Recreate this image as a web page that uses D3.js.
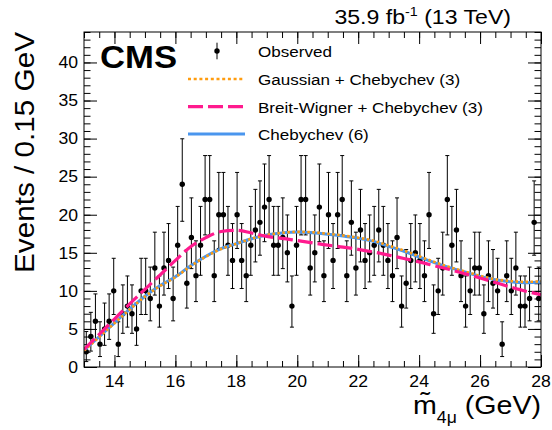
<!DOCTYPE html>
<html><head><meta charset="utf-8">
<script src="https://cdn.jsdelivr.net/npm/d3@7"></script>
<style>
body{margin:0;background:#fff}
svg{display:block}
text{font-family:"Liberation Sans",Arial,Helvetica,sans-serif;fill:#000}
</style>
</head><body>
<svg id="chart" width="552" height="430"></svg>
<script>
// ---------------- data ----------------
const binLow = 13, binWidth = 0.15;
const observed = [
  2,4,6,3,5,6,10,3,7,8,
  7,5,10,10,9,13,8,13,14,9,
  16,24,11,17,12,16,22,22,12,20,
  20,16,14,20,14,12,16,18,19,21,
  22,16,16,17,15,8,16,22,22,13,
  15,21,12,20,14,20,22,12,19,13,
  18,14,15,16,18,16,14,12,17,8,
  11,14,15,14,12,20,7,10,13,22,
  16,18,12,8,10,13,13,7,12,11,
  10,3,12,10,13,8,8,9,19,9
];
const fitMass = [13,13.5,14,14.5,15,15.5,16,16.5,17,17.5,18,18.5,19,19.5,20,20.5,21,21.5,22,22.5,23,23.5,24,24.5,25,25.5,26,26.5,27,27.5,28];
const chebychev6 = [2.2,4.0,5.8,7.6,9.3,10.7,11.85,13.3,14.55,15.55,16.2,16.85,17.35,17.6,17.72,17.64,17.45,17.2,16.9,16.5,15.85,15.2,14.45,13.7,13.05,12.47,11.9,11.45,11.2,11.08,11.18];
const gaussCheb3 = [2.15,3.95,5.75,7.55,9.25,10.65,11.8,13.25,14.5,15.5,16.2,16.85,17.35,17.62,17.75,17.7,17.5,17.28,16.98,16.58,15.95,15.3,14.55,13.8,13.12,12.55,11.98,11.52,11.28,11.18,11.25];
const bwCheb3 = [2.3,4.3,6.3,8.3,10.2,12.1,14.0,15.8,17.0,17.8,17.95,17.6,17.15,16.9,16.6,16.3,16.0,15.75,15.45,15.1,14.7,14.25,13.8,13.3,12.8,12.25,11.7,11.1,10.5,9.95,9.5];
const xTicks = [14,16,18,20,22,24,26,28];
const yTicks = [0,5,10,15,20,25,30,35,40];
const legendLabels = ["Observed","Gaussian + Chebychev (3)","Breit-Wigner + Chebychev (3)","Chebychev (6)"];
const lumiText = ["35.9 fb", "-1", " (13 TeV)"];

// ---------------- setup ----------------
const SX = 1.1; // horizontal text stretch of the reference
const svg = d3.select("#chart");
const L = 84, R = 541, T = 32, B = 367;
const x = d3.scaleLinear().domain([13, 28]).range([L, R]);
const y = d3.scaleLinear().domain([0, 44]).range([B, T]);

function label(parent, px, py, txt, size, anchor, extra) {
  const t = parent.append("text")
    .attr("transform", `translate(${px},${py}) ${extra || ""} scale(${SX},1)`)
    .attr("text-anchor", anchor)
    .style("font-size", size + "px");
  if (txt !== null) t.text(txt);
  return t;
}

// Poisson (Gehrels approx.) error bounds
function poissonLow(n) { return n <= 0 ? 0 : n * Math.pow(1 - 1/(9*n) - 1/(3*Math.sqrt(n)), 3); }
function poissonHigh(n) { return n + Math.sqrt(n + 0.75) + 1; }

const data = observed.map((v, i) => ({m: binLow + (i + 0.5) * binWidth, v}));

// ---------------- axes (ticks inward, all four sides) ----------------
const minorX = d3.range(13, 28.001, 0.5);
const minorY = d3.range(0, 44.001, 1);
function axisG(axis, tx, ty) {
  const g = svg.append("g").attr("transform", `translate(${tx},${ty})`).call(axis);
  g.select(".domain").remove();
  g.selectAll("text").remove();
  g.selectAll("line").attr("stroke", "#000").attr("stroke-width", 1);
  return g;
}
axisG(d3.axisBottom(x).tickValues(minorX).tickSize(-6), 0, B);
axisG(d3.axisBottom(x).tickValues(xTicks).tickSize(-12), 0, B);
axisG(d3.axisTop(x).tickValues(minorX).tickSize(-6), 0, T);
axisG(d3.axisTop(x).tickValues(xTicks).tickSize(-12), 0, T);
axisG(d3.axisLeft(y).tickValues(minorY).tickSize(-6.5), L, 0);
axisG(d3.axisLeft(y).tickValues(yTicks).tickSize(-13), L, 0);
axisG(d3.axisRight(y).tickValues(minorY).tickSize(-6.5), R, 0);
axisG(d3.axisRight(y).tickValues(yTicks).tickSize(-13), R, 0);

// tick labels
xTicks.forEach(t => label(svg, x(t), 386.5, String(t), 16, "middle"));
yTicks.forEach(t => label(svg, 78, y(t) + 5.8, String(t), 16, "end"));

// ---------------- data points ----------------
const clipId = "plotclip";
svg.append("clipPath").attr("id", clipId).append("rect")
  .attr("x", L).attr("y", T).attr("width", R - L).attr("height", B - T);
const plot = svg.append("g").attr("clip-path", `url(#${clipId})`);

const eb = plot.append("g").attr("stroke", "#000").attr("stroke-width", 1);
data.forEach(d => {
  const cx = x(d.m), y0 = y(poissonLow(d.v)), y1 = y(poissonHigh(d.v));
  eb.append("line").attr("x1", cx).attr("x2", cx).attr("y1", y0).attr("y2", y1);
  eb.append("line").attr("x1", cx - 2).attr("x2", cx + 2).attr("y1", y0).attr("y2", y0);
  eb.append("line").attr("x1", cx - 2).attr("x2", cx + 2).attr("y1", y1).attr("y2", y1);
});
plot.append("g").selectAll("circle").data(data).join("circle")
  .attr("cx", d => x(d.m)).attr("cy", d => y(d.v)).attr("r", 2.7).attr("fill", "#000");

// ---------------- fit curves ----------------
const line = d3.line().x(d => x(d[0])).y(d => y(d[1])).curve(d3.curveMonotoneX);
const BLUE = "#4a96ee", ORANGE = "#ff9c0f", PINK = "#ff1a8e";
plot.append("path").attr("d", line(fitMass.map((m, i) => [m, chebychev6[i]])))
  .attr("fill", "none").attr("stroke", BLUE).attr("stroke-width", 3);
plot.append("path").attr("d", line(fitMass.map((m, i) => [m, gaussCheb3[i]])))
  .attr("fill", "none").attr("stroke", ORANGE).attr("stroke-width", 2.6).attr("stroke-dasharray", "2.5,2.5");
plot.append("path").attr("d", line(fitMass.map((m, i) => [m, bwCheb3[i]])))
  .attr("fill", "none").attr("stroke", PINK).attr("stroke-width", 3.2).attr("stroke-dasharray", "15,5");

// frame
svg.append("rect").attr("x", L).attr("y", T).attr("width", R - L).attr("height", B - T)
  .attr("fill", "none").attr("stroke", "#000").attr("stroke-width", 1);

// ---------------- legend ----------------
const lg = svg.append("g");
const rowY = [51, 79, 106.7, 134];
const lx0 = 188, lx1 = 245, ltx = 258;
lg.append("line").attr("x1", 217).attr("x2", 217).attr("y1", 42.7).attr("y2", 59.3).attr("stroke", "#000");
lg.append("circle").attr("cx", 217).attr("cy", rowY[0]).attr("r", 2.7).attr("fill", "#000");
lg.append("line").attr("x1", lx0).attr("x2", lx1).attr("y1", rowY[1]).attr("y2", rowY[1])
  .attr("stroke", ORANGE).attr("stroke-width", 2.6).attr("stroke-dasharray", "3,2.7");
lg.append("line").attr("x1", lx0).attr("x2", lx1).attr("y1", rowY[2]).attr("y2", rowY[2])
  .attr("stroke", PINK).attr("stroke-width", 3.2).attr("stroke-dasharray", "15,5");
lg.append("line").attr("x1", lx0).attr("x2", lx1).attr("y1", rowY[3]).attr("y2", rowY[3])
  .attr("stroke", BLUE).attr("stroke-width", 3);
legendLabels.forEach((s, i) => label(lg, ltx, rowY[i] + 5.8, s, 15.5, "start"));

// ---------------- titles ----------------
label(svg, 100, 68, "CMS", 31.5, "start").style("font-weight", "bold");
const lt = label(svg, 511, 24, null, 21, "end");
lt.append("tspan").text(lumiText[0]);
lt.append("tspan").attr("dy", -8).style("font-size", "13px").text(lumiText[1]);
lt.append("tspan").attr("dy", 8).text(lumiText[2]);

label(svg, 34, 32, "Events / 0.15 GeV", 27, "end", "rotate(-90)");

const xl = label(svg, 541, 414, null, 26, "end");
xl.append("tspan").text("m\u0303");
xl.append("tspan").attr("dy", 9).style("font-size", "16px").text("4\u03bc");
xl.append("tspan").attr("dy", -9).text(" (GeV)");
</script>
</body></html>
